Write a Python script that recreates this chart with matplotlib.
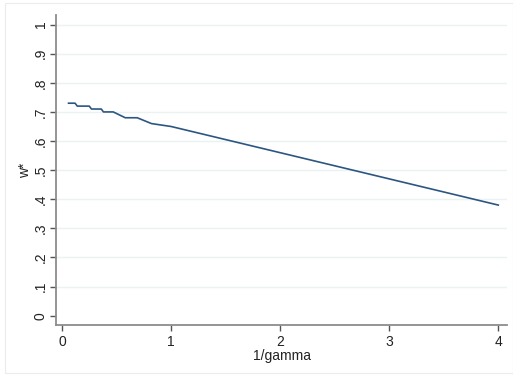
import matplotlib.pyplot as plt
from matplotlib.patches import Rectangle

plt.rcParams['font.family'] = ['Liberation Sans', 'DejaVu Sans']

# optimal share w* against risk tolerance 1/gamma
inv_gamma = [0.06, 0.12, 0.14, 0.25, 0.27, 0.36, 0.38, 0.47, 0.58, 0.69, 0.82, 1.0, 2.0, 3.0, 4.0]
w_star = [0.73, 0.73, 0.72, 0.72, 0.71, 0.71, 0.70, 0.70, 0.68, 0.68, 0.66, 0.65, 0.56, 0.47, 0.38]

x_ticks = [0, 1, 2, 3, 4]
y_ticks = [0, 0.1, 0.2, 0.3, 0.4, 0.5, 0.6, 0.7, 0.8, 0.9, 1.0]
y_labels = ["0", ".1", ".2", ".3", ".4", ".5", ".6", ".7", ".8", ".9", "1"]

W, H = 513, 377
fig = plt.figure(figsize=(W / 100, H / 100), dpi=100)
fig.patch.set_facecolor("white")
fig.patches.append(Rectangle((5 / W, 4 / H), (W - 5) / W, (H - 7) / H,
                             transform=fig.transFigure, fill=False,
                             edgecolor="#ececec", linewidth=0.8))

ax = fig.add_axes([56 / W, (H - 325) / H, (507 - 56) / W, (325 - 15) / H])
ax.plot(inv_gamma, w_star, color="#2c5682", linewidth=1.2)

ax.set_xlim(-0.055, 4.08)
ax.set_ylim(-0.032, 1.033)
ax.set_xticks(x_ticks)
ax.set_yticks(y_ticks)
ax.set_yticklabels(y_labels, rotation=90, va="center")

for y in y_ticks[1:]:
    ax.axhline(y, color="#eaf2f3", linewidth=1.0, zorder=0)

for side in ["top", "right"]:
    ax.spines[side].set_visible(False)
for side in ["left", "bottom"]:
    ax.spines[side].set_color("#8c8c8c")
    ax.spines[side].set_linewidth(1.3)

ax.tick_params(axis="both", direction="out", length=4, width=1,
               color="#555555", labelsize=10, labelcolor="#222222", pad=3)
ax.tick_params(axis="y", pad=2)

ax.set_xlabel("1/gamma", fontsize=10, color="#222222", labelpad=0)
ax.set_ylabel("w*", fontsize=10, color="#222222", labelpad=1)

fig.savefig("out.png", dpi=100)
